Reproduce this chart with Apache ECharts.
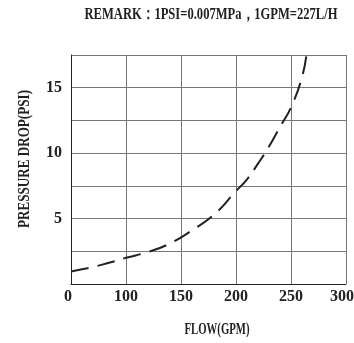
<!DOCTYPE html>
<html>
<head>
  <meta charset="utf-8">
  <title>Pressure drop vs flow</title>
  <script src="https://cdn.jsdelivr.net/npm/echarts@6.0.0/dist/echarts.min.js"></script>
</head>
<body style="margin:0;background:#fff">
  <div id="main" style="width:354px;height:343px"></div>
  <script>
    // x tick labels (axis is not linear: 0-100 takes one cell, then steps of 50)
    var flowTicks = [0, 100, 150, 200, 250, 300];
    // curve: flow (GPM) and pressure drop (PSI)
    var flow = [0, 20, 40, 60, 80, 100, 120, 140, 160, 180, 200, 210, 220, 230, 240, 250, 260, 264];
    var psi = [0.95, 1.12, 1.3, 1.52, 1.75, 2.0, 2.45, 3.1, 4.1, 5.3, 7.1, 8.0, 9.2, 10.5, 12.0, 13.5, 15.8, 17.5];

    var titleText = 'REMARK：1PSI=0.007MPa，1GPM=227L/H';
    var xName = 'FLOW(GPM)';
    var yName = 'PRESSURE DROP(PSI)';

    // map a flow value to its cell position on the axis
    function flowPos(f) {
      for (var i = 1; i < flowTicks.length; i++) {
        if (f <= flowTicks[i]) {
          return i - 1 + (f - flowTicks[i - 1]) / (flowTicks[i] - flowTicks[i - 1]);
        }
      }
      return flowTicks.length - 1;
    }

    var font = '"Liberation Serif", "DejaVu Serif", serif';
    var ctx = document.createElement('canvas').getContext('2d');
    // squeeze text horizontally to mimic the tall narrow font of the original
    function squeeze(text, size, width) {
      ctx.font = 'bold ' + size + 'px ' + font;
      return width / ctx.measureText(text).width;
    }
    function label(text, x, y, size, width, rot) {
      return {
        type: 'text', x: x, y: y, rotation: rot || 0, scaleX: squeeze(text, size, width),
        style: {
          text: text, fontFamily: font, fontSize: size, fontWeight: 'bold',
          fill: '#222', align: 'center', verticalAlign: 'middle'
        }
      };
    }

    var tickFont = { fontFamily: font, fontSize: 16, fontWeight: 'bold', color: '#222' };

    var chart = echarts.init(document.getElementById('main'));
    chart.setOption({
      animation: false,
      graphic: [
        label(titleText, 211, 15, 17, 253),
        label(xName, 217, 330, 17, 65),
        label(yName, 25, 159, 17, 138, Math.PI / 2)
      ],
      grid: { left: 71, top: 55, right: 8, bottom: 59, outerBoundsMode: 'none' },
      xAxis: {
        type: 'value',
        min: 0,
        max: flowTicks.length - 1,
        interval: 1,
        axisLine: { lineStyle: { color: '#222', width: 1 } },
        axisTick: { show: false },
        axisLabel: Object.assign({
          margin: 5,
          formatter: function (v) {
            var i = Math.round(v);
            var t = String(flowTicks[i]);
            if (i === 0) return '{first|' + t + '}';
            if (i === flowTicks.length - 1) return '{last|' + t + '}';
            return t;
          },
          rich: {
            first: Object.assign({ padding: [0, 6, 0, 0] }, tickFont),
            last: Object.assign({ padding: [0, 8, 0, 0] }, tickFont)
          }
        }, tickFont),
        splitLine: { show: true, lineStyle: { color: '#777', width: 1 } }
      },
      yAxis: {
        type: 'value',
        min: 0,
        max: 17.5,
        interval: 2.5,
        axisLine: { show: true, lineStyle: { color: '#222', width: 1 } },
        axisTick: { show: false },
        axisLabel: Object.assign({
          margin: 9,
          formatter: function (v) { return v > 0 && v % 5 === 0 ? String(v) : ''; }
        }, tickFont),
        splitLine: { show: true, lineStyle: { color: '#777', width: 1 } }
      },
      series: [{
        type: 'line',
        smooth: true,
        symbol: 'none',
        data: flow.map(function (f, i) { return [flowPos(f), psi[i]]; }),
        lineStyle: { color: '#222', width: 2, type: [18, 9] }
      }]
    });
  </script>
</body>
</html>
